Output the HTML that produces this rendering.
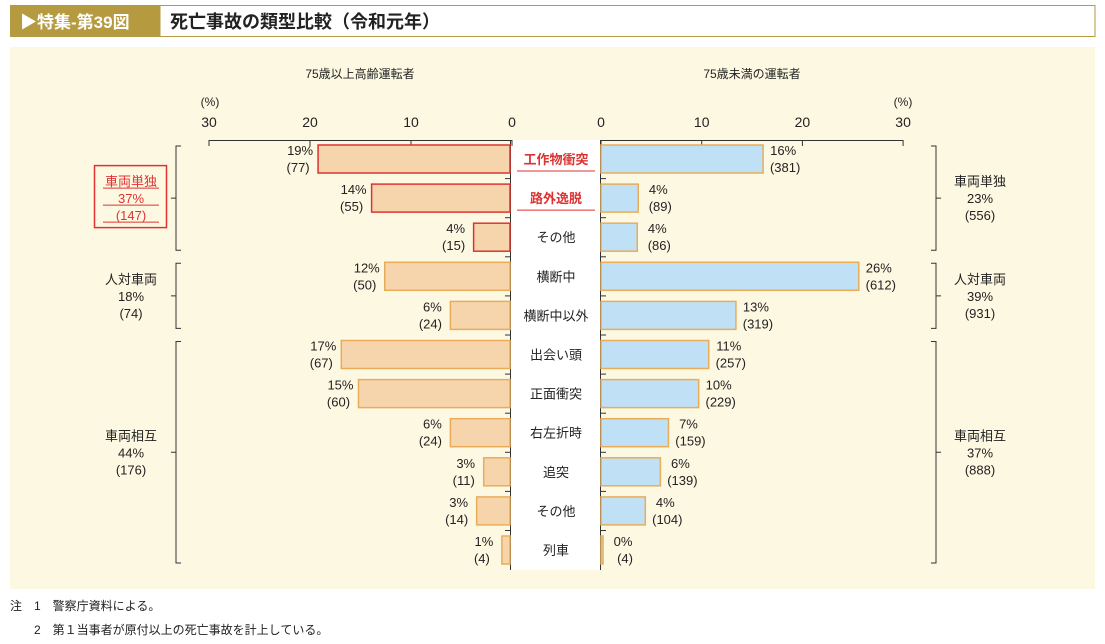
<!DOCTYPE html>
<html><head><meta charset="utf-8"><style>
body{margin:0;background:#fff;width:1105px;height:644px;overflow:hidden}
svg{display:block;font-family:"Liberation Sans","Noto Sans CJK JP",sans-serif}
</style></head><body>
<svg id="c" width="1105" height="644">
<rect x="10" y="5" width="150" height="32" fill="#b59a3f"/>
<text x="20" y="28" font-size="17" font-weight="bold" fill="#fff">▶特集-第39図</text>
<rect x="160" y="5.5" width="935" height="31" fill="#fff" stroke="#b59a3f"/>
<text x="170" y="28" font-size="18" font-weight="bold" fill="#222">死亡事故の類型比較（令和元年）</text>
<rect x="10" y="47" width="1085" height="542" fill="#fdf8e2"/>
<text x="360" y="78" font-size="12" text-anchor="middle" fill="#222">75歳以上高齢運転者</text>
<text x="752" y="78" font-size="12" text-anchor="middle" fill="#222">75歳未満の運転者</text>
<text x="210" y="106" font-size="12" text-anchor="middle" fill="#222">(%)</text>
<text x="903" y="106" font-size="12" text-anchor="middle" fill="#222">(%)</text>
<rect x="510" y="140" width="90" height="430" fill="#fff"/>
<g id="g"></g>
<text x="10" y="610" font-size="12" fill="#222">注　1　警察庁資料による。</text>
<text x="10" y="634" font-size="12" fill="#222">　　2　第１当事者が原付以上の死亡事故を計上している。</text>
</svg>
<script>
const categories=["工作物衝突","路外逸脱","その他","横断中","横断中以外","出会い頭","正面衝突","右左折時","追突","その他","列車"];
const leftPct=[19.2,13.9,3.8,12.6,6.1,16.9,15.2,6.1,2.8,3.5,1.0];
const leftLabel=["19%","14%","4%","12%","6%","17%","15%","6%","3%","3%","1%"];
const leftCount=[77,55,15,50,24,67,60,24,11,14,4];
const rightPct=[16.1,3.7,3.6,25.6,13.4,10.7,9.7,6.7,5.9,4.4,0.2];
const rightLabel=["16%","4%","4%","26%","13%","11%","10%","7%","6%","4%","0%"];
const rightCount=[381,89,86,612,319,257,229,159,139,104,4];
const ticks=[0,10,20,30];
const leftGroups=[["車両単独","37%","(147)",0,2],["人対車両","18%","(74)",3,4],["車両相互","44%","(176)",5,10]];
const rightGroups=[["車両単独","23%","(556)",0,2],["人対車両","39%","(931)",3,4],["車両相互","37%","(888)",5,10]];
const NS="http://www.w3.org/2000/svg",g=document.getElementById('g');
const xL=v=>512-v*10.1, xR=v=>601+v*10.07, rowY=i=>159+i*39.1, BH=28;
function el(t,a,txt){const e=document.createElementNS(NS,t);for(const k in a)e.setAttribute(k,a[k]);if(txt!==undefined)e.textContent=txt;g.appendChild(e);return e;}
el('line',{x1:209,y1:140.5,x2:512,y2:140.5,stroke:'#333'});
el('line',{x1:601,y1:140.5,x2:903,y2:140.5,stroke:'#333'});
ticks.forEach(t=>{
 el('line',{x1:xL(t),y1:140,x2:xL(t),y2:146,stroke:'#333'});
 let a=el('text',{x:xL(t),y:127,'font-size':14,'text-anchor':'middle',fill:'#222'},t);
 
 el('line',{x1:xR(t),y1:140,x2:xR(t),y2:146,stroke:'#333'});
 let b=el('text',{x:xR(t),y:127,'font-size':14,'text-anchor':'middle',fill:'#222'},t);
 
});
el('line',{x1:510.5,y1:140,x2:510.5,y2:570,stroke:'#333'});
el('line',{x1:600.5,y1:140,x2:600.5,y2:570,stroke:'#333'});
categories.forEach((c,i)=>{
 const y=rowY(i),red=i<2;
 const lstroke=i<3?'#d33':'#e9ad5a';
 let lb=el('rect',{x:xL(leftPct[i]),y:y-BH/2,width:512-xL(leftPct[i])-2,height:BH,fill:'#f6d5ad',stroke:lstroke,'stroke-width':1.5});
 
 let rb=el('rect',{x:601,y:y-BH/2,width:xR(rightPct[i])-601,height:BH,fill:'#bfe0f5',stroke:'#e9ad5a','stroke-width':1.5});
 
 let lt=el('text',{x:xL(leftPct[i])-18,y:y-4,'font-size':13,'text-anchor':'middle',fill:'#222'},leftLabel[i]);
 
 el('text',{x:xL(leftPct[i])-20,y:y+13,'font-size':13,'text-anchor':'middle',fill:'#222'},'('+leftCount[i]+')');
 let rt=el('text',{x:xR(rightPct[i])+20,y:y-4,'font-size':13,'text-anchor':'middle',fill:'#222'},rightLabel[i]);
 
 el('text',{x:xR(rightPct[i])+22,y:y+13,'font-size':13,'text-anchor':'middle',fill:'#222'},'('+rightCount[i]+')');
 let ct=el('text',{x:556,y:y+5,'font-size':13,'text-anchor':'middle',fill:red?'#d33':'#222','font-weight':red?'bold':'normal'},c);
 
 if(red)el('line',{x1:517,y1:y+12,x2:595,y2:y+12,stroke:'#d33'});
 if(i>0){const ty=y-19.5;el('line',{x1:505,y1:ty,x2:511,y2:ty,stroke:'#333'});el('line',{x1:600,y1:ty,x2:606,y2:ty,stroke:'#333'});}
});
function bracket(grp,side){
 const y1=rowY(grp[3])-13,y2=rowY(grp[4])+13,mid=(y1+y2)/2;
 const x=side?936:176,d=side?-5:5;
 el('path',{d:`M${x+d},${y1} H${x} V${y2} H${x+d} M${x},${mid} H${x-d}`,fill:'none',stroke:'#333'});
 const tx=side?980:131,red=!side&&grp[3]===0;
 [grp[0],grp[1],grp[2]].forEach((s,k)=>{
  let t=el('text',{x:tx,y:mid-12+k*17,'font-size':13,'text-anchor':'middle',fill:red?'#d33':'#222'},s);
  
  if(red)el('line',{x1:tx-28,y1:mid-10+k*17,x2:tx+28,y2:mid-10+k*17,stroke:'#d33'});
 });
 if(red)el('rect',{x:94.5,y:mid-32.5,width:72,height:62,fill:'none',stroke:'#d33','stroke-width':1.5});
}
leftGroups.forEach(gr=>bracket(gr,false));
rightGroups.forEach(gr=>bracket(gr,true));
</script>
</body></html>
